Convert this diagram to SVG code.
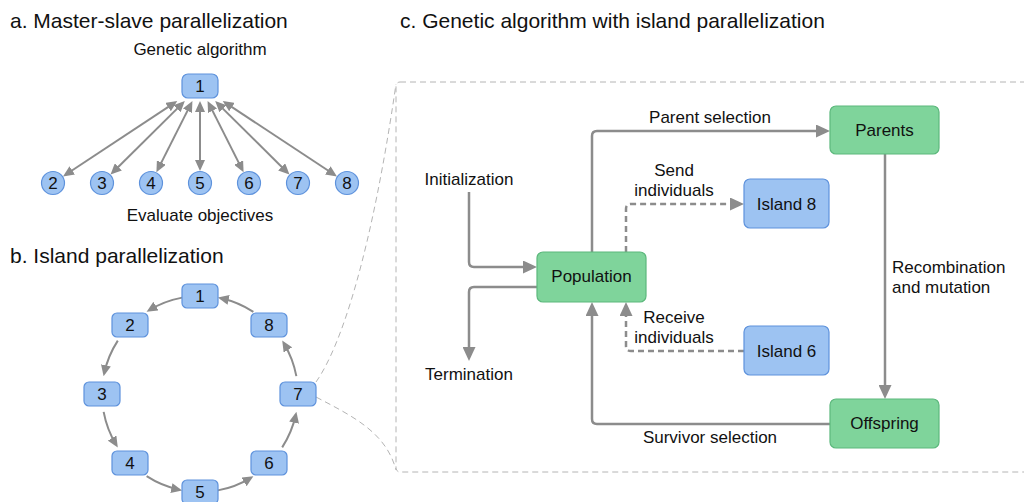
<svg xmlns="http://www.w3.org/2000/svg" width="1024" height="502" viewBox="0 0 1024 502">
<defs>
<style>
text{font-family:"Liberation Sans",Arial,sans-serif;fill:#111}
.title{font-size:21px}
.lbl{font-size:17px}
.num{font-size:17px;text-anchor:middle}
.mid{text-anchor:middle}
.blue{fill:#9dc3f2;stroke:#5e92dc;stroke-width:1.2}
.green{fill:#7fd49b;stroke:#5cb87c;stroke-width:1.2}
.ln{fill:none;stroke:#8c8c8c;stroke-width:2}
.lnc{fill:none;stroke:#8c8c8c;stroke-width:2.5}
.dash{stroke-dasharray:6 4}
.frame{fill:none;stroke:#b4b4b4;stroke-width:1;stroke-dasharray:6 4}
</style>
<marker id="as" markerUnits="userSpaceOnUse" markerWidth="11" markerHeight="10" refX="8" refY="5" orient="auto-start-reverse">
<path d="M0,0 L11,5 L0,10 z" fill="#8c8c8c"/>
</marker>
<marker id="ac" markerUnits="userSpaceOnUse" markerWidth="14" markerHeight="13" refX="10" refY="6.5" orient="auto">
<path d="M0,0 L14,6.5 L0,13 z" fill="#8c8c8c"/>
</marker>
</defs>

<text class="title" x="10" y="28">a. Master-slave parallelization</text>
<text class="title" x="10" y="263">b. Island parallelization</text>
<text class="title" x="400" y="28">c. Genetic algorithm with island parallelization</text>

<text class="lbl mid" x="200" y="55">Genetic algorithm</text>
<text class="lbl mid" x="200" y="221">Evaluate objectives</text>

<g id="connectors">
<!-- panel a -->
<path class="ln" marker-start="url(#as)" marker-end="url(#as)" d="M174.77,102.65 L65.53,174.73"/>
<path class="ln" marker-start="url(#as)" marker-end="url(#as)" d="M182.71,103.11 L112.66,172.45"/>
<path class="ln" marker-start="url(#as)" marker-end="url(#as)" d="M191.07,103.67 L157.76,169.61"/>
<path class="ln" marker-start="url(#as)" marker-end="url(#as)" d="M200,104 L200,168"/>
<path class="ln" marker-start="url(#as)" marker-end="url(#as)" d="M208.93,103.67 L242.24,169.61"/>
<path class="ln" marker-start="url(#as)" marker-end="url(#as)" d="M217.29,103.11 L287.34,172.45"/>
<path class="ln" marker-start="url(#as)" marker-end="url(#as)" d="M225.23,102.65 L334.47,174.73"/>
<!-- panel b ring -->
<path class="ln" marker-end="url(#as)" d="M182.14,297.64 A98,98 0 0 0 149.16,310.22"/>
<path class="ln" marker-end="url(#as)" d="M117.81,340.63 A98,98 0 0 0 104.23,373.21"/>
<path class="ln" marker-end="url(#as)" d="M103.64,411.86 A98,98 0 0 0 116.22,444.84"/>
<path class="ln" marker-end="url(#as)" d="M146.63,476.19 A98,98 0 0 0 179.21,489.77"/>
<path class="ln" marker-end="url(#as)" d="M217.86,490.36 A98,98 0 0 0 250.84,477.78"/>
<path class="ln" marker-end="url(#as)" d="M282.19,447.37 A98,98 0 0 0 295.77,414.79"/>
<path class="ln" marker-end="url(#as)" d="M296.36,376.14 A98,98 0 0 0 283.78,343.16"/>
<path class="ln" marker-end="url(#as)" d="M253.37,311.81 A98,98 0 0 0 220.79,298.23"/>
<!-- zoom callout -->
<path class="frame" d="M316,382 C342,345 372,250 396,84"/>
<path class="frame" d="M316,397 C352,416 386,432 396,470"/>
<rect class="frame" x="396" y="82" width="700" height="390" rx="4"/>
<!-- panel c -->
<path class="lnc" marker-end="url(#ac)" d="M469,192 V262 Q469,267 474,267 H533"/>
<path class="lnc" marker-end="url(#ac)" d="M537,287 H474 Q469,287 469,292 V357"/>
<path class="lnc" marker-end="url(#ac)" d="M592,252 V136 Q592,131 597,131 H826"/>
<path class="lnc dash" marker-end="url(#ac)" d="M626,252 V209 Q626,204 631,204 H740"/>
<path class="lnc" marker-end="url(#ac)" d="M885,154 V395"/>
<path class="lnc" marker-end="url(#ac)" d="M830,424 H597 Q592,424 592,419 V306"/>
<path class="lnc dash" marker-end="url(#ac)" d="M744,351 H631 Q626,351 626,346 V306"/>
</g>

<g id="a1"><rect class="blue" x="182" y="74" width="36" height="24" rx="6"/><text class="num" x="200" y="92">1</text></g>
<g id="a2"><circle class="blue" cx="53" cy="183" r="11.5"/><text class="num" x="53" y="189">2</text></g>
<g id="a3"><circle class="blue" cx="102" cy="183" r="11.5"/><text class="num" x="102" y="189">3</text></g>
<g id="a4"><circle class="blue" cx="151" cy="183" r="11.5"/><text class="num" x="151" y="189">4</text></g>
<g id="a5"><circle class="blue" cx="200" cy="183" r="11.5"/><text class="num" x="200" y="189">5</text></g>
<g id="a6"><circle class="blue" cx="249" cy="183" r="11.5"/><text class="num" x="249" y="189">6</text></g>
<g id="a7"><circle class="blue" cx="298" cy="183" r="11.5"/><text class="num" x="298" y="189">7</text></g>
<g id="a8"><circle class="blue" cx="347" cy="183" r="11.5"/><text class="num" x="347" y="189">8</text></g>

<g id="b1"><rect class="blue" x="182" y="284" width="36" height="24" rx="5"/><text class="num" x="200" y="302">1</text></g>
<g id="b2"><rect class="blue" x="112" y="313" width="36" height="24" rx="5"/><text class="num" x="130" y="331">2</text></g>
<g id="b3"><rect class="blue" x="84" y="382" width="36" height="24" rx="5"/><text class="num" x="102" y="400">3</text></g>
<g id="b4"><rect class="blue" x="112" y="451" width="36" height="24" rx="5"/><text class="num" x="130" y="469">4</text></g>
<g id="b5"><rect class="blue" x="182" y="480" width="36" height="24" rx="5"/><text class="num" x="200" y="498">5</text></g>
<g id="b6"><rect class="blue" x="251" y="451" width="36" height="24" rx="5"/><text class="num" x="269" y="469">6</text></g>
<g id="b7"><rect class="blue" x="280" y="382" width="36" height="24" rx="5"/><text class="num" x="298" y="400">7</text></g>
<g id="b8"><rect class="blue" x="251" y="313" width="36" height="24" rx="5"/><text class="num" x="269" y="331">8</text></g>

<g id="population"><rect class="green" x="537" y="252" width="109" height="50" rx="6"/><text class="lbl mid" x="591.5" y="282">Population</text></g>
<g id="parents"><rect class="green" x="830" y="106" width="109" height="48" rx="6"/><text class="lbl mid" x="884.5" y="136">Parents</text></g>
<g id="offspring"><rect class="green" x="830" y="399" width="109" height="49" rx="6"/><text class="lbl mid" x="884.5" y="429">Offspring</text></g>
<g id="island8"><rect class="blue" x="744" y="179" width="85" height="49" rx="6"/><text class="lbl mid" x="786.5" y="210">Island 8</text></g>
<g id="island6"><rect class="blue" x="744" y="326" width="85" height="49" rx="6"/><text class="lbl mid" x="786.5" y="357">Island 6</text></g>

<g id="labels">
<text class="lbl mid" x="469" y="185">Initialization</text>
<text class="lbl mid" x="469" y="380">Termination</text>
<text class="lbl mid" x="710" y="123">Parent selection</text>
<text class="lbl mid" x="674" y="176">Send</text>
<text class="lbl mid" x="674" y="196">individuals</text>
<text class="lbl mid" x="674" y="323">Receive</text>
<text class="lbl mid" x="674" y="343">individuals</text>
<text class="lbl" x="892" y="273">Recombination</text>
<text class="lbl" x="892" y="293">and mutation</text>
<text class="lbl mid" x="710" y="443">Survivor selection</text>
</g>
</svg>
